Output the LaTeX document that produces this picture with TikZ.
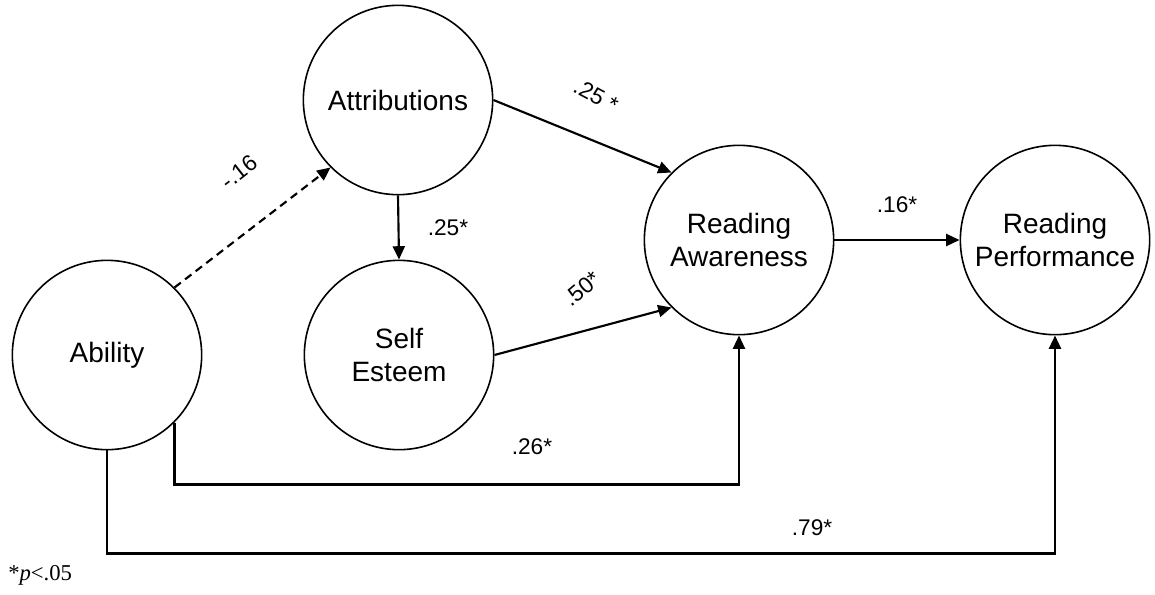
\documentclass[tikz,border=0pt]{standalone}
\usepackage{fontspec}
\setmainfont{Liberation Sans}
\newfontfamily\notefont{Liberation Serif}
\usetikzlibrary{arrows.meta}

\tikzset{
  latent/.style={draw, circle, line width=1.2pt, minimum size=142pt, inner sep=0pt, align=center, font=\fontsize{21}{25}\selectfont},
  path/.style={line width=1.6pt, -{Triangle[length=10pt,width=9pt]}},
  coef/.style={font=\fontsize{17}{19}\selectfont, inner sep=0.5pt}
}

\begin{document}
\begin{tikzpicture}[x=0.75pt,y=0.75pt,yscale=-1,xscale=1]
\useasboundingbox (0,0) rectangle (1155,594);

% latent variables
\node[latent] (attr) at (398,100) {Attributions};
\node[latent] (self) at (399,355) {Self\\Esteem};
\node[latent] (abil) at (107,355) {Ability};
\node[latent] (aware) at (739,240) {Reading\\Awareness};
\node[latent] (perf) at (1055,240) {Reading\\Performance};

% paths
\draw[path, dashed, dash pattern=on 6pt off 4pt] (abil.45) -- (attr.225);
\draw[path] (attr.south) -- (self.north);
\draw[path] (attr.east) -- (aware.135);
\draw[path] (self.east) -- (aware.225);
\draw[path] (aware.east) -- (perf.west);
\draw[path] (abil.-45) -- ++(0,62) -| (aware.south);
\draw[path] (abil.south) -- ++(0,103) -| (perf.south);

% coefficients
\node[coef, rotate=38] (c16) at (239,172) {-.16};
\node[coef] (c25a) at (448,228) {.25*};
\node[coef, rotate=-28] (c25b) at (596,96) {.25 *};
\node[coef, rotate=40] (c50) at (582,289) {.50*};
\node[coef] (c16b) at (897,205) {.16*};
\node[coef] (c26) at (532,447) {.26*};
\node[coef] (c79) at (812,528) {.79*};

% note
\node[anchor=west, inner sep=0pt, font=\notefont\fontsize{17}{19}\selectfont] (note) at (8,575) {*\textit{p}<.05};

\end{tikzpicture}
\end{document}
